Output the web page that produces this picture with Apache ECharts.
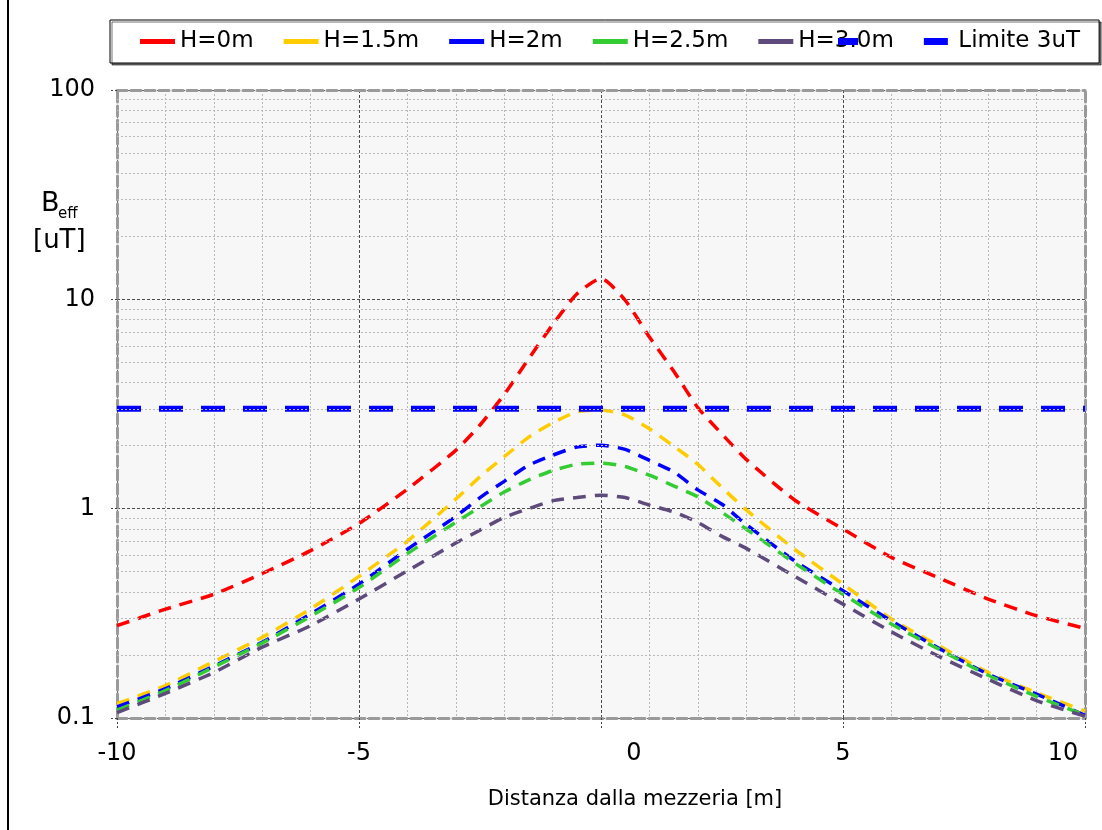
<!DOCTYPE html>
<html>
<head>
<meta charset="utf-8">
<script src="https://cdn.jsdelivr.net/npm/echarts@6/dist/echarts.min.js"></script>
<style>
html,body{margin:0;padding:0;background:#fff;}
#chart{width:1102px;height:830px;}
</style>
</head>
<body>
<div id="chart"></div>
<script>
// Distance from centre line [m]
const xs = [-10,-9,-8,-7,-6,-5,-4,-3,-2.5,-2,-1.5,-1,-0.5,0,0.5,1,1.5,2,2.5,3,4,5,6,7,8,9,10];
// B_eff [uT] for each height
const h0   = [0.276,0.331,0.39,0.49,0.63,0.85,1.24,1.90,2.51,3.51,5.18,7.56,10.6,12.6,9.9,6.6,4.55,3.04,2.27,1.72,1.1,0.80,0.585,0.465,0.37,0.308,0.268];
const h15  = [0.117,0.143,0.186,0.243,0.332,0.475,0.70,1.11,1.42,1.77,2.19,2.57,2.9,2.96,2.8,2.41,1.99,1.63,1.26,0.987,0.64,0.436,0.297,0.22,0.165,0.132,0.108];
const h2   = [0.113,0.138,0.177,0.23,0.314,0.436,0.64,0.918,1.13,1.35,1.61,1.80,1.97,2.01,1.92,1.70,1.50,1.23,1.05,0.84,0.563,0.405,0.291,0.214,0.162,0.13,0.103];
const h25  = [0.109,0.135,0.175,0.228,0.306,0.42,0.61,0.86,1.02,1.20,1.37,1.52,1.63,1.65,1.59,1.445,1.285,1.14,0.96,0.80,0.55,0.39,0.281,0.212,0.16,0.127,0.103];
const h3   = [0.106,0.131,0.165,0.218,0.276,0.37,0.505,0.685,0.79,0.908,1.0,1.09,1.13,1.16,1.13,1.04,0.965,0.86,0.737,0.646,0.475,0.35,0.258,0.196,0.153,0.121,0.102];
const limitX = [-10, 10];
const limitY = [3, 3];
const seriesNames = ['H=0m','H=1.5m','H=2m','H=2.5m','H=3.0m','Limite 3uT'];
const xTicks = [-10,-5,0,5,10];
const yTicks = [0.1,1,10,100];
const minorY = [0.2,0.3,0.4,0.5,0.6,0.7,0.8,0.9,2,3,4,5,6,7,8,9,20,30,40,50,60,70,80,90];

const FONT = 'DejaVu Sans';
const colors = ['#ff0000','#ffcc00','#0000ff','#33cc33','#5f4b7b'];
const curves = [h0,h15,h2,h25,h3];

const chart = echarts.init(document.getElementById('chart'), null, {renderer:'canvas'});

const frameLine = {show:true, onZero:false, lineStyle:{color:'#9a9a9a', width:3, type:[10,4]}};

const series = curves.map((arr,i)=>({
  name: seriesNames[i],
  type:'line',
  xAxisIndex:0, yAxisIndex:0,
  data: xs.map((x,j)=>[x, arr[j]]),
  showSymbol:false, symbol:'none',
  smooth:0.2,
  z: 3,
  lineStyle:{color:colors[i], width:3.5, type:[13,9], cap:'butt'},
  itemStyle:{color:colors[i]}
}));
series.push({
  name: seriesNames[5],
  type:'line',
  data: limitX.map((x,j)=>[x, limitY[j]]),
  showSymbol:false, symbol:'none',
  z: 4,
  lineStyle:{color:'#0000ff', width:6, type:[24,18]},
  itemStyle:{color:'#0000ff'}
});
series.push({
  name:'_minorgrid',
  type:'line',
  data:[],
  z:1,
  silent:true,
  markLine:{
    silent:true, symbol:'none', animation:false,
    label:{show:false},
    lineStyle:{color:'#b8b8b8', width:1, type:[2,2]},
    emphasis:{disabled:true},
    data: minorY.map(v=>({yAxis:v}))
  }
});

const lineIcon = 'path://M0,0h34v5h-34z';
const limitIcon = 'path://M0,0h24v7h-24z';

chart.setOption({
  animation:false,
  backgroundColor:'#ffffff',
  grid:{left:117, right:17, top:90, bottom:112, show:true, backgroundColor:'#f7f7f7', borderWidth:0},
  legend:{
    left:110, top:20,
    padding:[10,19,10,30],
    itemGap:30, itemWidth:35, itemHeight:7,
    symbolKeepAspect:true,
    borderColor:'#000', borderWidth:1, backgroundColor:'#fff',
    shadowColor:'rgba(0,0,0,0.55)', shadowOffsetX:2, shadowOffsetY:2, shadowBlur:0,
    textStyle:{fontFamily:FONT, fontSize:23, color:'#000'},
    itemStyle:{borderWidth:0},
    data: seriesNames.map((n,i)=>({name:n, icon: i===5 ? limitIcon : lineIcon}))
  },
  xAxis:[{
    type:'value', min:-10, max:10, interval:5,
    axisLine:frameLine,
    axisTick:{show:true, length:10, lineStyle:{color:'#444', type:[2,2]}},
    axisLabel:{
      fontFamily:FONT, fontSize:24, color:'#000', margin:24,
      formatter:function(v){ if(v===0) return '{a|0}'; if(v===10) return '{b|10}'; return String(v); },
      rich:{
        a:{fontFamily:FONT, fontSize:24, color:'#000', padding:[0,0,0,66]},
        b:{fontFamily:FONT, fontSize:24, color:'#000', padding:[0,44,0,0]}
      }
    },
    splitLine:{show:true, lineStyle:{color:'#4a4a4a', width:1, type:[3,2]}},
    minorTick:{show:false, splitNumber:5},
    minorSplitLine:{show:true, lineStyle:{color:'#b8b8b8', width:1, type:[2,2]}},
    name:'Distanza dalla mezzeria [m]',
    nameLocation:'middle', nameGap:71,
    nameTextStyle:{fontFamily:FONT, fontSize:21, color:'#000', padding:[0,0,0,68]}
  },{
    type:'value', min:-10, max:10, position:'top',
    axisLine:frameLine, axisTick:{show:false}, axisLabel:{show:false}, splitLine:{show:false}
  }],
  yAxis:[{
    type:'log', logBase:10, min:0.1, max:100,
    axisLine:frameLine,
    axisTick:{show:true, length:7, lineStyle:{color:'#444', type:[2,2]}},
    axisLabel:{fontFamily:FONT, fontSize:24, color:'#000', margin:22,
      formatter:function(v){ return String(+v.toPrecision(3)); }},
    splitLine:{show:true, lineStyle:{color:'#4a4a4a', width:1, type:[3,2]}}
  },{
    type:'log', logBase:10, min:0.1, max:100, position:'right',
    axisLine:frameLine, axisTick:{show:false}, axisLabel:{show:false}, splitLine:{show:false}
  }],
  graphic:[
    {type:'line', shape:{x1:8,y1:0,x2:8,y2:830}, style:{stroke:'#000', lineWidth:2}},
    {type:'text', left:41, top:190, style:{text:'B', fontFamily:FONT, fontSize:27, fill:'#000'}},
    {type:'text', left:58, top:207, style:{text:'eff', fontFamily:FONT, fontSize:15, fill:'#000'}},
    {type:'text', left:33, top:228, style:{text:'[uT]', fontFamily:FONT, fontSize:26, fill:'#000'}},
    {type:'rect', shape:{x:838, y:38, width:20, height:7}, style:{fill:'#0000ff'}, z:100}
  ],
  series: series
});
</script>
</body>
</html>
